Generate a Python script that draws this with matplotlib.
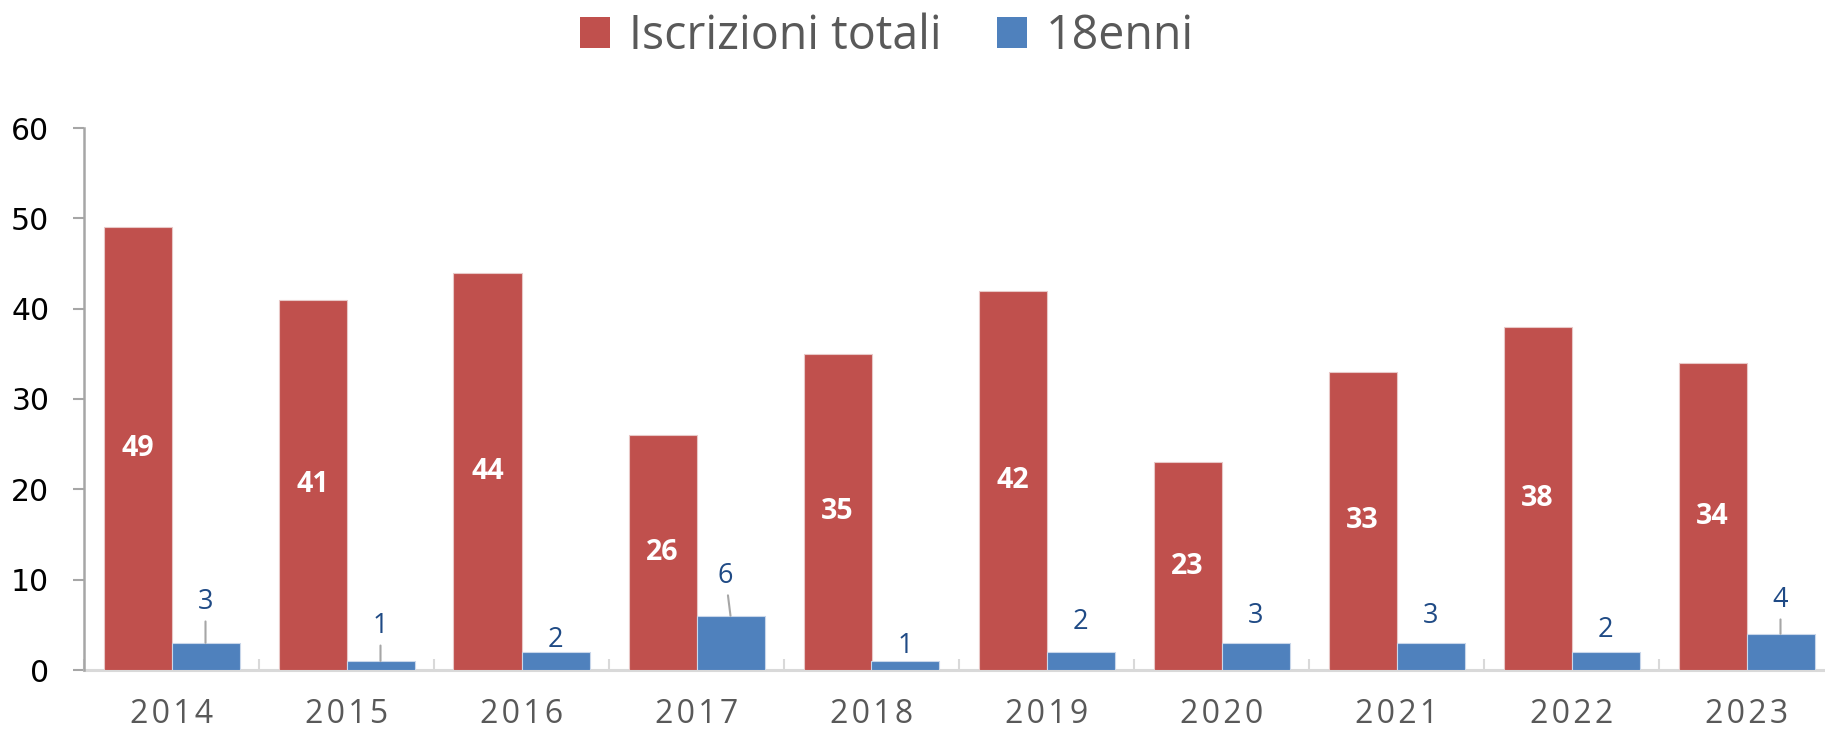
import matplotlib
matplotlib.use("Agg")
import matplotlib.pyplot as plt
import numpy as np
from matplotlib.patches import Patch
from matplotlib.ticker import FixedLocator, NullFormatter

# --- data -------------------------------------------------------------
years = ["2014", "2015", "2016", "2017", "2018", "2019", "2020", "2021", "2022", "2023"]
iscrizioni_totali = [49, 41, 44, 26, 35, 42, 23, 33, 38, 34]
diciottenni = [3, 1, 2, 6, 1, 2, 3, 3, 2, 4]
series_names = ["Iscrizioni totali", "18enni"]

# --- styling -----------------------------------------------------------
RED = "#C0504D"
BLUE = "#4F81BD"
LABEL_BLUE = "#1F4A85"
GREY_TEXT = "#595959"
AXIS_GREY = "#A6A6A6"
BASE_GREY = "#D9D9D9"
TXT_FONT = ["Open Sans", "DejaVu Sans"]

# vertical offset (pixels) of each 18enni label above its bar, and horizontal nudge
blue_label_dy = [41, 35, 12, 40, 15, 30, 27, 27, 22, 34]
blue_label_dx = [0, 0, 0, -5, 0, 0, 0, 0, 0, 0]

W, H, DPI = 1825, 736, 100
fig = plt.figure(figsize=(W / DPI, H / DPI), dpi=DPI)
ax = fig.add_axes([84 / W, (H - 670) / H, 1750 / W, 542 / H])

x = np.arange(len(years))
bw = 68 / 175
red_bars = ax.bar(x - bw / 2, iscrizioni_totali, width=bw, color=RED,
                  edgecolor="#E8C8C7", linewidth=0.8, zorder=3)
blue_bars = ax.bar(x + bw / 2, diciottenni, width=bw, color=BLUE,
                   edgecolor="#C9D7EA", linewidth=0.8, zorder=3)

ax.set_xlim(-0.5, len(years) - 0.5)
ax.set_ylim(0, 60)

# value labels inside the red bars
for rect, v in zip(red_bars, iscrizioni_totali):
    ax.text(rect.get_x() + rect.get_width() / 2, v / 2, str(v),
            ha="center", va="center", color="white", fontsize=20.5,
            fontweight="bold", family=TXT_FONT, zorder=4)

# value labels above the blue bars, with leader lines when pulled away
for rect, v, dy, dx in zip(blue_bars, diciottenni, blue_label_dy, blue_label_dx):
    cx = rect.get_x() + rect.get_width() / 2
    props = None
    if dy > 33:
        props = dict(arrowstyle="-", color=AXIS_GREY, lw=1.5,
                     shrinkA=2, shrinkB=0)
    ax.annotate(str(v), xy=(cx, v), xytext=(dx, dy),
                textcoords="offset pixels", ha="center", va="center",
                color=LABEL_BLUE, fontsize=19.5, family=TXT_FONT,
                arrowprops=props, zorder=4)

# axes
for side in ("top", "right"):
    ax.spines[side].set_visible(False)
ax.spines["left"].set_color(AXIS_GREY)
ax.spines["left"].set_linewidth(1.8)
ax.spines["bottom"].set_color(BASE_GREY)
ax.spines["bottom"].set_linewidth(2.2)
ax.spines["bottom"].set_zorder(2)

ax.set_yticks(np.arange(0, 61, 10))
ax.tick_params(axis="y", length=8, width=1.5, color=AXIS_GREY, pad=17,
               labelsize=21.5, labelcolor="black")
for lbl in ax.get_yticklabels():
    lbl.set_family("DejaVu Sans")

ax.set_xticks(x)
ax.set_xticklabels(["\u200a".join(y) for y in years])
ax.tick_params(axis="x", which="major", length=0, pad=20,
               labelsize=23, labelcolor=GREY_TEXT)
for lbl in ax.get_xticklabels():
    lbl.set_family(TXT_FONT)
ax.xaxis.set_minor_locator(FixedLocator(np.arange(-0.5, len(years) + 0.5, 1.0)))
ax.xaxis.set_minor_formatter(NullFormatter())
ax.tick_params(axis="x", which="minor", direction="in", length=8,
               width=1.5, color=BASE_GREY)

# legend
handles = [Patch(facecolor=RED, edgecolor="none"),
           Patch(facecolor=BLUE, edgecolor="none")]
leg = fig.legend(handles, series_names, loc="center", ncol=2, frameon=False,
                 bbox_to_anchor=(887 / W, 1 - 36 / H),
                 prop=dict(family=TXT_FONT, size=33.5),
                 handlelength=0.65, handleheight=0.65, handletextpad=0.4,
                 columnspacing=1.2, borderpad=0)
for t in leg.get_texts():
    t.set_color(GREY_TEXT)

fig.savefig("out.png", dpi=DPI)
